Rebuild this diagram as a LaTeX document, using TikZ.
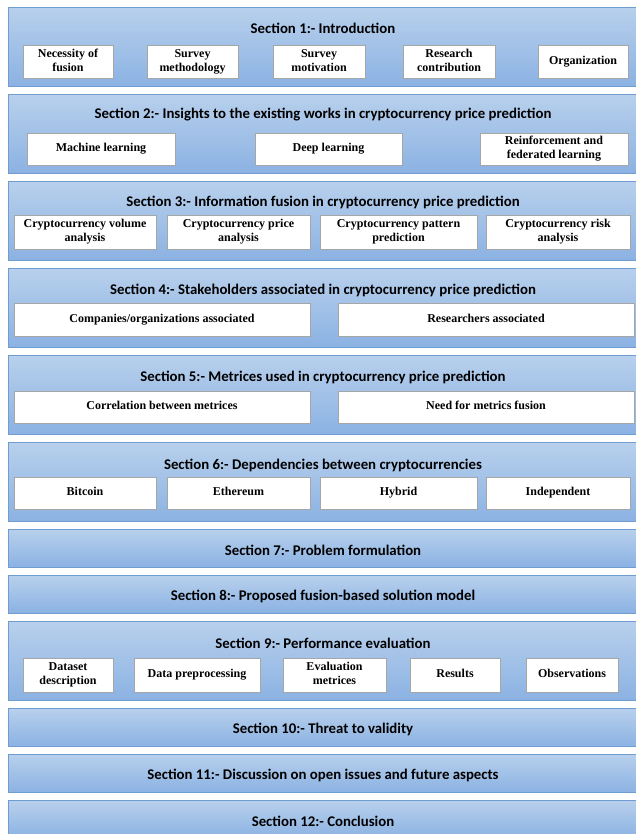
\documentclass[tikz,border=0pt]{standalone}
\usepackage{fontspec}
\setmainfont{Liberation Serif}
\newfontfamily\headfont{Carlito}
\usepackage{tikz}
\usetikzlibrary{positioning,calc}
\definecolor{PanelTop}{HTML}{B8D0EC}
\definecolor{PanelBottom}{HTML}{8BB2E3}
\definecolor{PanelBorder}{HTML}{6F9CD1}
\definecolor{ItemBorder}{HTML}{A6A6A6}
\newcommand\itemstrut{\rule[-2.5pt]{0pt}{10.5pt}}

\tikzset{
	panel/.style={draw=PanelBorder, top color=PanelTop, bottom color=PanelBottom,
		minimum width=634pt, inner sep=0pt, anchor=north west},
	bigpanel/.style={panel, minimum height=79pt},
	smallpanel/.style={panel, minimum height=38pt},
	heading/.style={font=\headfont\bfseries\fontsize{14.8}{16}\selectfont, inner sep=0pt},
	item/.style={draw=ItemBorder, fill=white, align=center, inner sep=1pt,
		font=\bfseries\fontsize{12}{14}\selectfont,
		execute at begin node=\itemstrut, execute at end node=\itemstrut},
}

\begin{document}
\begin{tikzpicture}[x=1pt,y=-1pt]
			
			\useasboundingbox (0,0) rectangle (636,834);
			\fill[white] (0,0) rectangle (636,834);
			
			% ---------------------------------------------------------
			% PANELS
			% ---------------------------------------------------------
			
			\node[bigpanel] (p1) at (8,7) {};
			\node[bigpanel] (p2) at (8,94) {};
			\node[bigpanel] (p3) at (8,181) {};
			\node[bigpanel] (p4) at (8,268) {};
			\node[bigpanel] (p5) at (8,355) {};
			\node[bigpanel] (p6) at (8,442) {};
			\node[smallpanel] (p7) at (8,529) {};
			\node[smallpanel] (p8) at (8,575) {};
			\node[bigpanel] (p9) at (8,621) {};
			\node[smallpanel] (p10) at (8,708) {};
			\node[smallpanel] (p11) at (8,754) {};
			\node[smallpanel] (p12) at (8,800) {};
			
			% ---------------------------------------------------------
			% HEADINGS
			% ---------------------------------------------------------
			
			\node[heading] (t1) at (323,28) {Section 1:- Introduction};
			\node[heading] (t2) at (323,115) {Section 2:- Insights to the existing works in cryptocurrency price prediction};
			\node[heading] (t3) at (323,202) {Section 3:- Information fusion in cryptocurrency price prediction};
			\node[heading] (t4) at (323,290) {Section 4:- Stakeholders associated in cryptocurrency price prediction};
			\node[heading] (t5) at (323,377) {Section 5:- Metrices used in cryptocurrency price prediction};
			\node[heading] (t6) at (323,465) {Section 6:- Dependencies between cryptocurrencies};
			\node[heading] (t7) at (323,550) {Section 7:- Problem formulation};
			\node[heading] (t8) at (323,596) {Section 8:- Proposed fusion-based solution model};
			\node[heading] (t9) at (323,643) {Section 9:- Performance evaluation};
			\node[heading] (t10) at (323,729) {Section 10:- Threat to validity};
			\node[heading] (t11) at (323,775) {Section 11:- Discussion on open issues and future aspects};
			\node[heading] (t12) at (323,821) {Section 12:- Conclusion};
			
			% ---------------------------------------------------------
			% SECTION 1
			% ---------------------------------------------------------
			
			\node[item, minimum width=90pt, minimum height=33pt] (fusion) at (68,61.5) {Necessity of\\fusion};
			\node[item, minimum width=91pt, minimum height=33pt] (method) at (192.5,61.5) {Survey\\methodology};
			\node[item, minimum width=92pt, minimum height=33pt] (motive) at (319,61.5) {Survey\\motivation};
			\node[item, minimum width=92pt, minimum height=33pt] (contrib) at (449,61.5) {Research\\contribution};
			\node[item, minimum width=90pt, minimum height=33pt] (organize) at (583,61.5) {Organization};
			
			% ---------------------------------------------------------
			% SECTION 2
			% ---------------------------------------------------------
			
			\node[item, minimum width=148pt, minimum height=32pt] (ml) at (101,149) {Machine learning};
			\node[item, minimum width=147pt, minimum height=32pt] (dl) at (328.5,149) {Deep learning};
			\node[item, minimum width=148pt, minimum height=32pt] (rfl) at (554,149) {Reinforcement and\\federated learning};
			
			% ---------------------------------------------------------
			% SECTION 3
			% ---------------------------------------------------------
			
			\node[item, minimum width=142pt, minimum height=34pt] (volume) at (85,232) {Cryptocurrency volume\\analysis};
			\node[item, minimum width=143pt, minimum height=34pt] (price) at (238.5,232) {Cryptocurrency price\\analysis};
			\node[item, minimum width=157pt, minimum height=34pt] (pattern) at (398.5,232) {Cryptocurrency pattern\\prediction};
			\node[item, minimum width=144pt, minimum height=34pt] (risk) at (558,232) {Cryptocurrency risk\\analysis};
			
			% ---------------------------------------------------------
			% SECTION 4
			% ---------------------------------------------------------
			
			\node[item, minimum width=296pt, minimum height=33pt] (companies) at (162,319.5) {Companies/organizations associated};
			\node[item, minimum width=296pt, minimum height=33pt] (researchers) at (486,319.5) {Researchers associated};
			
			% ---------------------------------------------------------
			% SECTION 5
			% ---------------------------------------------------------
			
			\node[item, minimum width=296pt, minimum height=32pt] (correlation) at (162,407) {Correlation between metrices};
			\node[item, minimum width=296pt, minimum height=32pt] (needfusion) at (486,407) {Need for metrics fusion};
			
			% ---------------------------------------------------------
			% SECTION 6
			% ---------------------------------------------------------
			
			\node[item, minimum width=142pt, minimum height=32pt] (bitcoin) at (85,493) {Bitcoin};
			\node[item, minimum width=143pt, minimum height=32pt] (ethereum) at (238.5,493) {Ethereum};
			\node[item, minimum width=157pt, minimum height=32pt] (hybrid) at (398.5,493) {Hybrid};
			\node[item, minimum width=144pt, minimum height=32pt] (independent) at (558,493) {Independent};
			
			% ---------------------------------------------------------
			% SECTION 9
			% ---------------------------------------------------------
			
			\node[item, minimum width=90pt, minimum height=34pt] (dataset) at (68,675) {Dataset\\description};
			\node[item, minimum width=126pt, minimum height=34pt] (preprocess) at (197,675) {Data preprocessing};
			\node[item, minimum width=103pt, minimum height=34pt] (evalmetric) at (334.5,675) {Evaluation\\metrices};
			\node[item, minimum width=90pt, minimum height=34pt] (results) at (455,675) {Results};
			\node[item, minimum width=92pt, minimum height=34pt] (observe) at (572,675) {Observations};
			
		\end{tikzpicture}
\end{document}
